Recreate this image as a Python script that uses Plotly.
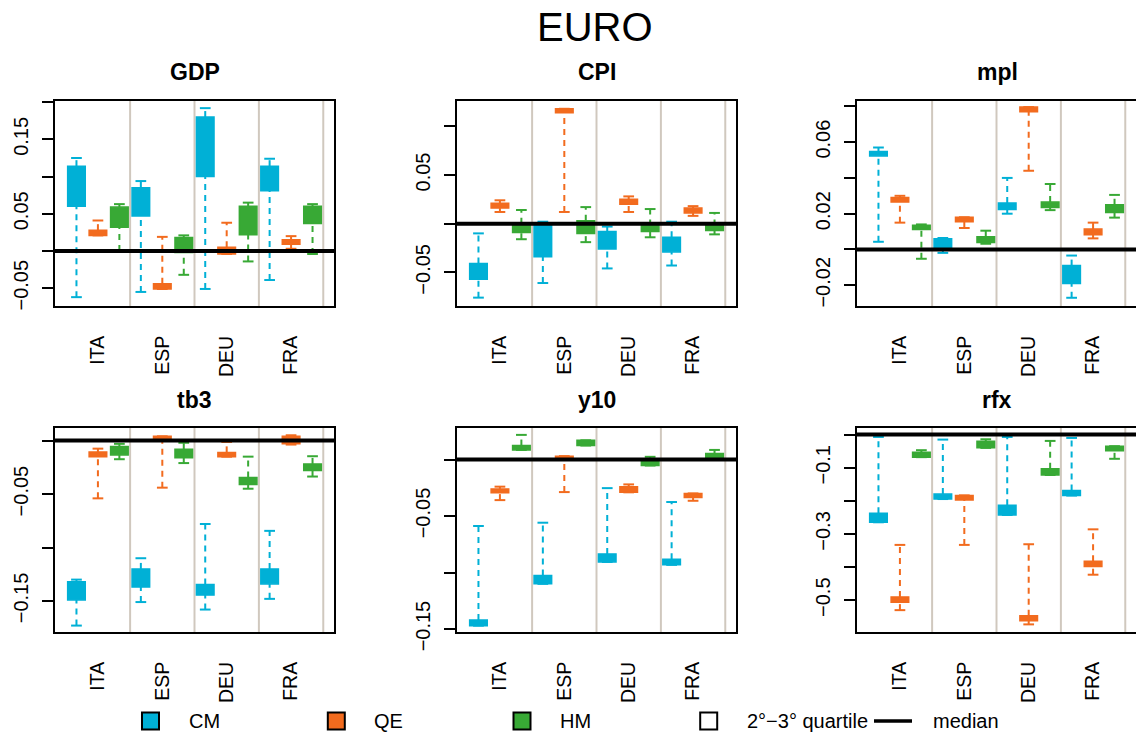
import plotly.graph_objects as go

W, H = 1136, 738

countries = ["ITA", "ESP", "DEU", "FRA"]
methods = ["CM", "QE", "HM"]
method_colors = ["#00B0D6", "#F26B1E", "#38A935"]
panel_titles = ["GDP", "CPI", "mpl", "tb3", "y10", "rfx"]
legend_labels = ["CM", "QE", "HM", "2°−3° quartile", "median"]

# order of every list: ITA-CM, ITA-QE, ITA-HM, ESP-CM, ESP-QE, ESP-HM,
#                      DEU-CM, DEU-QE, DEU-HM, FRA-CM, FRA-QE, FRA-HM
GDP_lo = [-0.062, 0.021, 0.000, -0.055, -0.051, -0.032, -0.051, -0.004, -0.014, -0.039, 0.003, -0.004]
GDP_q1 = [0.060, 0.021, 0.032, 0.047, -0.051, -0.002, 0.100, -0.004, 0.022, 0.081, 0.009, 0.037]
GDP_q3 = [0.114, 0.028, 0.059, 0.085, -0.044, 0.018, 0.180, 0.005, 0.060, 0.114, 0.015, 0.060]
GDP_hi = [0.125, 0.041, 0.063, 0.094, 0.019, 0.021, 0.192, 0.038, 0.065, 0.124, 0.020, 0.063]

CPI_lo = [-0.076, 0.012, -0.016, -0.061, 0.012, -0.019, -0.046, 0.012, -0.014, -0.043, 0.008, -0.011]
CPI_q1 = [-0.057, 0.016, -0.009, -0.034, 0.114, -0.010, -0.026, 0.020, -0.008, -0.029, 0.011, -0.007]
CPI_q3 = [-0.041, 0.021, 0.000, 0.000, 0.118, 0.003, -0.008, 0.025, -0.002, -0.014, 0.016, -0.002]
CPI_hi = [-0.010, 0.024, 0.014, 0.002, 0.118, 0.017, -0.003, 0.028, 0.015, 0.002, 0.018, 0.011]

mpl_lo = [0.0043, 0.015, -0.0052, -0.0019, 0.012, 0.0032, 0.020, 0.044, 0.022, -0.027, 0.0062, 0.0178]
mpl_q1 = [0.0523, 0.0265, 0.0112, -0.0004, 0.0155, 0.0039, 0.0224, 0.077, 0.0235, -0.019, 0.0082, 0.0206]
mpl_q3 = [0.0548, 0.029, 0.0136, 0.006, 0.018, 0.0071, 0.026, 0.0796, 0.0265, -0.009, 0.0114, 0.025]
mpl_hi = [0.057, 0.030, 0.014, 0.0064, 0.018, 0.0105, 0.040, 0.0796, 0.0366, -0.0034, 0.015, 0.0305]

tb3_lo = [-0.173, -0.054, -0.0174, -0.151, -0.044, -0.021, -0.158, -0.015, -0.045, -0.148, -0.0037, -0.0336]
tb3_q1 = [-0.149, -0.015, -0.0134, -0.137, 0.000, -0.016, -0.1445, -0.015, -0.041, -0.134, -0.003, -0.028]
tb3_q3 = [-0.132, -0.0106, -0.0056, -0.120, 0.004, -0.008, -0.1346, -0.011, -0.0346, -0.120, 0.004, -0.0218]
tb3_hi = [-0.130, -0.0075, -0.003, -0.110, 0.004, -0.002, -0.078, -0.0012, -0.015, -0.0844, 0.005, -0.0146]

y10_lo = [-0.147, -0.0359, 0.0085, -0.110, -0.0288, 0.0124, -0.0906, -0.029, -0.0053, -0.0932, -0.0365, 0.0012]
y10_q1 = [-0.147, -0.0294, 0.0085, -0.110, 0.0006, 0.0124, -0.0906, -0.029, -0.0053, -0.0932, -0.0335, 0.0012]
y10_q3 = [-0.142, -0.026, 0.0124, -0.1026, 0.003, 0.017, -0.0835, -0.024, 0.0006, -0.0882, -0.030, 0.0053]
y10_hi = [-0.0588, -0.024, 0.0218, -0.0559, 0.003, 0.017, -0.0253, -0.022, 0.0024, -0.0376, -0.030, 0.0085]

rfx_lo = [-0.2647, -0.530, -0.068, -0.1945, -0.333, -0.040, -0.2426, -0.573, -0.122, -0.184, -0.423, -0.073]
rfx_q1 = [-0.2647, -0.506, -0.068, -0.1945, -0.1975, -0.040, -0.2426, -0.562, -0.122, -0.184, -0.398, -0.049]
rfx_q3 = [-0.2376, -0.490, -0.053, -0.1795, -0.1835, -0.020, -0.2135, -0.547, -0.103, -0.169, -0.382, -0.035]
rfx_hi = [-0.007, -0.333, -0.047, -0.015, -0.1835, -0.014, -0.007, -0.331, -0.019, -0.010, -0.286, -0.035]

# y tick values / labels per panel
GDP_ticks = [-0.05, 0, 0.05, 0.1, 0.15, 0.2]
GDP_ticktext = ["−0.05", "", "0.05", "", "0.15", ""]
CPI_ticks = [-0.05, 0, 0.05, 0.1]
CPI_ticktext = ["−0.05", "", "0.05", ""]
mpl_ticks = [-0.02, 0, 0.02, 0.04, 0.06, 0.08]
mpl_ticktext = ["−0.02", "", "0.02", "", "0.06", ""]
tb3_ticks = [-0.15, -0.1, -0.05, 0]
tb3_ticktext = ["−0.15", "", "−0.05", ""]
y10_ticks = [-0.15, -0.1, -0.05, 0]
y10_ticktext = ["−0.15", "", "−0.05", ""]
rfx_ticks = [-0.5, -0.4, -0.3, -0.2, -0.1, 0]
rfx_ticktext = ["−0.5", "", "−0.3", "", "−0.1", ""]

panels = [
    (GDP_lo, GDP_q1, GDP_q3, GDP_hi, GDP_ticks, GDP_ticktext),
    (CPI_lo, CPI_q1, CPI_q3, CPI_hi, CPI_ticks, CPI_ticktext),
    (mpl_lo, mpl_q1, mpl_q3, mpl_hi, mpl_ticks, mpl_ticktext),
    (tb3_lo, tb3_q1, tb3_q3, tb3_hi, tb3_ticks, tb3_ticktext),
    (y10_lo, y10_q1, y10_q3, y10_hi, y10_ticks, y10_ticktext),
    (rfx_lo, rfx_q1, rfx_q3, rfx_hi, rfx_ticks, rfx_ticktext),
]

# ---------------- layout geometry (pixels) ----------------
col_px = [(55, 334), (457, 736), (857, 1137)]
row_px = [(101, 306), (428, 632)]
title_y_px = [72, 400]
y_ranges = [[-0.0739, 0.2016], [-0.0846, 0.126], [-0.0316, 0.083],
            [-0.179, 0.0118], [-0.1526, 0.0279], [-0.596, 0.020]]

FONT = "Liberation Sans, Arial, Helvetica, sans-serif"
SEP_COLOR = "rgb(208,200,190)"

def px_x(x):
    return min(max(x / W, 0), 1)

def px_y(y):
    return 1 - y / H

fig = go.Figure()
layout = dict(
    width=W, height=H, autosize=False, margin=dict(l=0, r=0, t=0, b=0, pad=0),
    paper_bgcolor="white", plot_bgcolor="white",
    showlegend=False, barmode="overlay",
    font=dict(family=FONT, size=19, color="black"),
)
shapes = []
annotations = []

positions = [3 * g + m + 1 for g in range(len(countries)) for m in range(len(methods))]
group_centers = [3 * g + 2 for g in range(len(countries))]
separators = [3 * g + 3.5 for g in range(len(countries))]

box_w = 0.82
cap_half = 0.25

for i, (lo, q1, q3, hi, tv, tt) in enumerate(panels):
    r, c = divmod(i, 3)
    xa = "x" if i == 0 else f"x{i+1}"
    ya = "y" if i == 0 else f"y{i+1}"
    xkey = "xaxis" if i == 0 else f"xaxis{i+1}"
    ykey = "yaxis" if i == 0 else f"yaxis{i+1}"
    x0p, x1p = col_px[c]
    y0p, y1p = row_px[r]
    layout[xkey] = dict(
        domain=[px_x(x0p), px_x(x1p)], anchor=ya, range=[0, 13], automargin=False,
        showline=True, linecolor="black", linewidth=2, mirror=True,
        ticks="", tickvals=group_centers, ticktext=countries, tickangle=-90,
        tickfont=dict(size=19.5, family=FONT), ticklabelstandoff=20,
        showgrid=False, zeroline=False, fixedrange=True,
    )
    layout[ykey] = dict(
        domain=[px_y(y1p), px_y(y0p)], anchor=xa, range=y_ranges[i], automargin=False,
        showline=True, linecolor="black", linewidth=2, mirror=True,
        ticks="outside", ticklen=11, tickwidth=2, tickcolor="black",
        tickvals=tv, ticktext=tt, tickangle=-90,
        tickfont=dict(size=20, family=FONT), ticklabelstandoff=6,
        showgrid=False, zeroline=False, fixedrange=True,
    )
    # separators
    for s in separators:
        shapes.append(dict(type="line", xref=xa, yref=f"{ya} domain",
                           x0=s, x1=s, y0=0, y1=1, layer="below",
                           line=dict(color=SEP_COLOR, width=2)))
    for m, (mname, col) in enumerate(zip(methods, method_colors)):
        idx = [g * 3 + m for g in range(len(countries))]
        xs = [positions[k] for k in idx]
        b_q1 = [q1[k] for k in idx]
        b_h = [q3[k] - q1[k] for k in idx]
        fig.add_trace(go.Bar(
            x=xs, y=b_h, base=b_q1, width=box_w, xaxis=xa, yaxis=ya,
            marker=dict(color=col, line=dict(color=col, width=1.5)),
            name=mname, hoverinfo="skip",
        ))
        wx, wy, cx, cy = [], [], [], []
        for k in idx:
            p = positions[k]
            wx += [p, p, None, p, p, None]
            wy += [q3[k], hi[k], None, lo[k], q1[k], None]
            cx += [p - cap_half, p + cap_half, None, p - cap_half, p + cap_half, None]
            cy += [hi[k], hi[k], None, lo[k], lo[k], None]
        fig.add_trace(go.Scatter(
            x=wx, y=wy, mode="lines", xaxis=xa, yaxis=ya,
            line=dict(color=col, width=2, dash="6px,5px"), hoverinfo="skip",
        ))
        fig.add_trace(go.Scatter(
            x=cx, y=cy, mode="lines", xaxis=xa, yaxis=ya,
            line=dict(color=col, width=2), hoverinfo="skip",
        ))
    # median reference line at 0
    shapes.append(dict(type="line", xref=f"{xa} domain", yref=ya,
                       x0=0, x1=1, y0=0, y1=0, layer="above",
                       line=dict(color="black", width=4)))
    # panel title
    annotations.append(dict(
        text=f"<b>{panel_titles[i]}</b>", xref="paper", yref="paper",
        x=(x0p + x1p) / 2 / W, y=px_y(title_y_px[r]),
        xanchor="center", yanchor="middle", showarrow=False,
        font=dict(size=23, family=FONT, color="black"),
    ))

# main title
annotations.append(dict(
    text="EURO", xref="paper", yref="paper", x=595 / W, y=px_y(27),
    xanchor="center", yanchor="middle", showarrow=False,
    font=dict(size=40, family=FONT, color="black"),
))

# legend (drawn manually, R-style)
leg_y = 721
sq_centers = [150.5, 336.3, 522.0, 708.7]
sq_fill = method_colors + ["white"]
for cxp, fill, lab in zip(sq_centers, sq_fill, legend_labels[:4]):
    shapes.append(dict(type="rect", xref="paper", yref="paper",
                       x0=(cxp - 8.5) / W, x1=(cxp + 8.5) / W,
                       y0=px_y(leg_y + 8.5), y1=px_y(leg_y - 8.5),
                       fillcolor=fill, line=dict(color="black", width=2)))
    annotations.append(dict(text=lab, xref="paper", yref="paper",
                            x=(cxp + 36) / W, y=px_y(leg_y), xanchor="left",
                            yanchor="middle", showarrow=False,
                            font=dict(size=20, family=FONT, color="black")))
shapes.append(dict(type="line", xref="paper", yref="paper",
                   x0=874 / W, x1=912 / W, y0=px_y(leg_y), y1=px_y(leg_y),
                   line=dict(color="black", width=3.5)))
annotations.append(dict(text=legend_labels[4], xref="paper", yref="paper",
                        x=931 / W, y=px_y(leg_y), xanchor="left", yanchor="middle",
                        showarrow=False,
                        font=dict(size=20, family=FONT, color="black")))

layout["shapes"] = shapes
layout["annotations"] = annotations
fig.update_layout(**layout)

fig.write_html("out.html", config={"displayModeBar": False})
